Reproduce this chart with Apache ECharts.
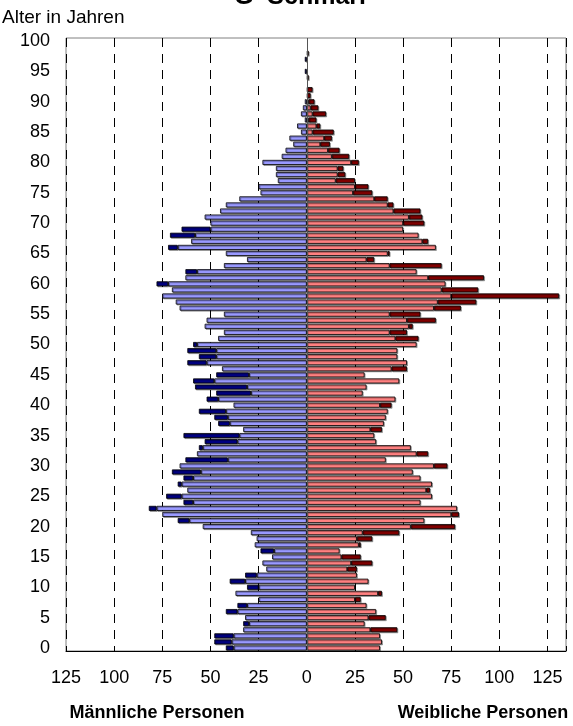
<!DOCTYPE html>
<html>
<head>
<meta charset="utf-8">
<script src="https://cdn.jsdelivr.net/npm/echarts@6/dist/echarts.min.js"></script>
<style>
  html, body { margin: 0; padding: 0; background: #fff; }
  #chart { width: 573px; height: 726px; }
</style>
</head>
<body>
<div id="chart"></div>
<script>
// Age pyramid for G  Schmarl: persons per single year of age (0 .. 100)
const ages = Array.from({ length: 101 }, (_, i) => String(i));

const male = [
  42, 48, 48, 33, 33, 32, 42, 36, 25, 37,   //  0 -  9
  31, 40, 32, 21, 23, 18, 24, 27, 26, 29,   // 10 - 19
  54, 67, 75, 82, 64, 73, 62, 67, 64, 70,   // 20 - 29
  66, 63, 57, 56, 53, 64, 33, 46, 48, 56,   // 30 - 39
  38, 52, 47, 58, 59, 47, 44, 62, 56, 62,   // 40 - 49
  59, 46, 43, 53, 52, 43, 66, 68, 75, 70,   // 50 - 59
  78, 63, 63, 43, 31, 42, 72, 60, 71, 65,   // 60 - 69
  50, 53, 45, 42, 35, 24, 25, 15, 16, 16,   // 70 - 79
  23, 13, 11, 7, 9, 3, 5, 1, 3, 2,          // 80 - 89
  1, 0, 0, 0, 0, 1, 0, 1, 0, 0,             // 90 - 99
  0                                         // 100
];

const female = [
  38, 39, 38, 47, 30, 41, 36, 31, 28, 39,   //  0 -  9
  25, 32, 26, 26, 34, 28, 17, 28, 34, 48,   // 10 - 19
  77, 61, 79, 78, 59, 65, 64, 65, 59, 55,   // 20 - 29
  73, 41, 63, 54, 36, 35, 39, 40, 41, 42,   // 30 - 39
  44, 46, 29, 31, 48, 30, 52, 52, 47, 47,   // 40 - 49
  57, 58, 52, 55, 67, 59, 80, 88, 131, 89,  // 50 - 59
  72, 92, 57, 70, 35, 43, 67, 63, 58, 50,   // 60 - 69
  61, 60, 59, 45, 42, 34, 32, 25, 20, 19,   // 70 - 79
  27, 22, 17, 12, 13, 14, 7, 5, 10, 6,      // 80 - 89
  4, 2, 3, 0, 1, 0, 0, 0, 1, 0,             // 90 - 99
  0                                         // 100
];

// Axis settings
const xMin = -125, xMax = 134.6, xStep = 25, xLabelMax = 125;
const yLabelEvery = 5;

const fontFamily = 'Arial, "Liberation Sans", Helvetica, sans-serif';

// Common part of both sexes is drawn light, the surplus of one sex dark
const nz = v => (v > 0 ? v : '-');
const maleLight   = male.map((m, i) => { const v = Math.min(m, female[i]); return v > 0 ? -v : '-'; });
const maleDark    = male.map((m, i) => { const v = m - Math.min(m, female[i]); return v > 0 ? -v : '-'; });
const femaleLight = female.map((f, i) => nz(Math.min(f, male[i])));
const femaleDark  = female.map((f, i) => nz(f - Math.min(f, male[i])));

function barSeries(name, data, color) {
  return {
    name, type: 'bar', stack: 'pyramid', data,
    barWidth: 5,
    itemStyle: {
      color, borderColor: '#000', borderWidth: 0.8,
      shadowColor: 'rgba(0,0,0,0.35)', shadowOffsetX: 1, shadowOffsetY: 1, shadowBlur: 0
    }
  };
}

const chart = echarts.init(document.getElementById('chart'), null, { renderer: 'canvas' });

const series = [
  barSeries('Männlich', maleLight, '#9999FF'),
  barSeries('Männlich Überschuss', maleDark, '#000080'),
  barSeries('Weiblich', femaleLight, '#FF8080'),
  barSeries('Weiblich Überschuss', femaleDark, '#800000')
];
// centre line at zero
series[0].markLine = {
  silent: true, symbol: 'none', label: { show: false },
  lineStyle: { color: '#555', width: 1, type: 'solid' },
  data: [{ xAxis: 0 }]
};

chart.setOption({
  animation: false,
  backgroundColor: '#fff',
  textStyle: { fontFamily },
  grid: {
    left: 66, right: 7, top: 38, bottom: 75,
    show: true, borderColor: '#808080', borderWidth: 1, backgroundColor: 'transparent'
  },
  xAxis: {
    type: 'value', min: xMin, max: xMax, interval: xStep,
    axisLine: { show: true, onZero: false, lineStyle: { color: '#000', width: 1 } },
    axisTick: { show: false },
    axisLabel: {
      color: '#000', fontSize: 18, fontFamily, margin: 18,
      formatter: v => (Math.abs(v) > xLabelMax ? '' : String(Math.abs(v)))
    },
    splitLine: { show: true, lineStyle: { color: '#000', width: 1, type: [9, 7] } }
  },
  yAxis: {
    type: 'category', data: ages,
    axisLine: { show: false },
    axisTick: { show: false },
    axisLabel: {
      color: '#000', fontSize: 18, fontFamily, margin: 16,
      interval: (idx) => idx % yLabelEvery === 0
    },
    splitLine: { show: false }
  },
  graphic: [
    {
      type: 'text', left: 2, top: 8,
      style: { text: 'Alter in Jahren', font: '19px ' + fontFamily, fill: '#000' }
    },
    {
      type: 'text', x: 300, y: 10,
      style: { text: 'G  Schmarl', font: 'bold 25px ' + fontFamily, fill: '#000',
               align: 'center', verticalAlign: 'bottom' }
    },
    {
      type: 'text', x: 157, y: 713,
      style: { text: 'Männliche Personen', font: 'bold 18px ' + fontFamily, fill: '#000',
               align: 'center', verticalAlign: 'middle' }
    },
    {
      type: 'text', x: 483, y: 713,
      style: { text: 'Weibliche Personen', font: 'bold 18px ' + fontFamily, fill: '#000',
               align: 'center', verticalAlign: 'middle' }
    }
  ],
  series
});
</script>
</body>
</html>
